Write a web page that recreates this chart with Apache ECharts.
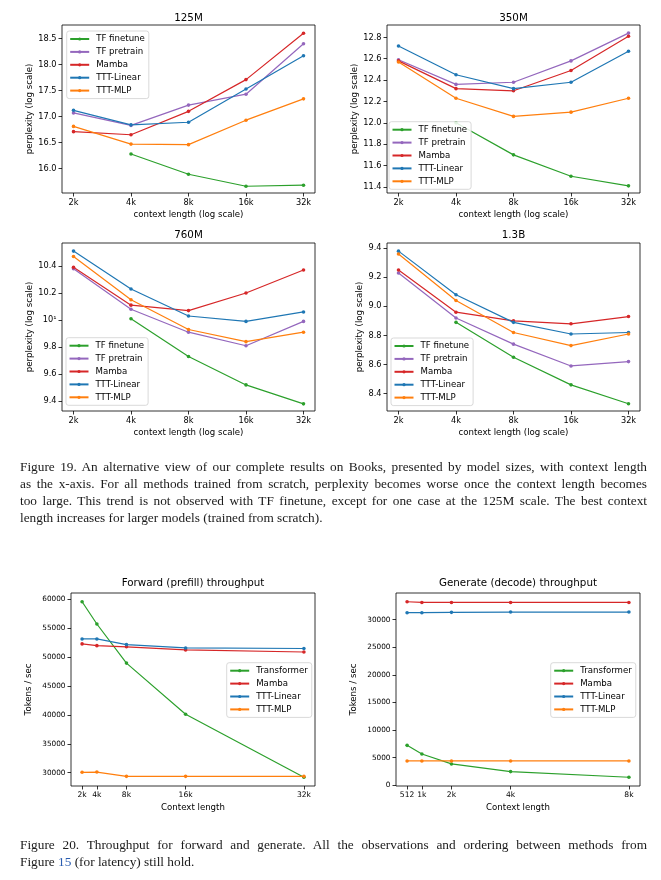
<!DOCTYPE html>
<html><head><meta charset="utf-8">
<script src="https://cdn.jsdelivr.net/npm/echarts@6/dist/echarts.min.js"></script>
<style>
html,body{margin:0;padding:0;background:#fff;width:661px;height:880px;overflow:hidden}
#chart{position:absolute;left:0;top:0;width:661px;height:880px}
.cap{position:absolute;left:20px;width:627px;font-family:'Liberation Serif','DejaVu Serif',serif;font-size:13.3px;color:#1a1a1a;line-height:17px}
.cap div{white-space:nowrap;text-align:justify;text-align-last:justify}
.cap div.last{text-align-last:left}
</style></head><body>
<div id="chart"></div>
<div class="cap" style="top:458px">
<div>Figure 19. An alternative view of our complete results on Books, presented by model sizes, with context length</div>
<div>as the x-axis. For all methods trained from scratch, perplexity becomes worse once the context length becomes</div>
<div>too large. This trend is not observed with TF finetune, except for one case at the 125M scale. The best context</div>
<div class="last">length increases for larger models (trained from scratch).</div>
</div>
<div class="cap" style="top:836px">
<div>Figure 20. Throughput for forward and generate. All the observations and ordering between methods from</div>
<div class="last">Figure <span style="color:#2a5db0">15</span> (for latency) still hold.</div>
</div>
<script>
// ---------- data ----------
const ctxLabels = ['2k', '4k', '8k', '16k', '32k'];
const methods = ['TF finetune', 'TF pretrain', 'Mamba', 'TTT-Linear', 'TTT-MLP'];

const p125_tfFinetune = [null, 16.28, 15.89, 15.66, 15.68];
const p125_tfPretrain = [17.07, 16.83, 17.22, 17.43, 18.40];
const p125_mamba      = [16.71, 16.65, 17.10, 17.71, 18.60];
const p125_tttLinear  = [17.12, 16.84, 16.89, 17.53, 18.17];
const p125_tttMlp     = [16.81, 16.47, 16.46, 16.93, 17.34];

const p350_tfFinetune = [null, 12.00, 11.70, 11.50, 11.41];
const p350_tfPretrain = [12.59, 12.36, 12.38, 12.58, 12.84];
const p350_mamba      = [12.58, 12.32, 12.30, 12.49, 12.81];
const p350_tttLinear  = [12.72, 12.45, 12.32, 12.38, 12.67];
const p350_tttMlp     = [12.57, 12.23, 12.06, 12.10, 12.23];

const p760_tfFinetune = [null, 10.01, 9.73, 9.52, 9.38];
const p760_tfPretrain = [10.38, 10.08, 9.91, 9.81, 9.99];
const p760_mamba      = [10.39, 10.11, 10.07, 10.20, 10.37];
const p760_tttLinear  = [10.51, 10.23, 10.03, 9.99, 10.06];
const p760_tttMlp     = [10.47, 10.15, 9.93, 9.84, 9.91];

const p13b_tfFinetune = [null, 8.89, 8.65, 8.46, 8.33];
const p13b_tfPretrain = [9.23, 8.92, 8.74, 8.59, 8.62];
const p13b_mamba      = [9.25, 8.96, 8.90, 8.88, 8.93];
const p13b_tttLinear  = [9.38, 9.08, 8.89, 8.81, 8.82];
const p13b_tttMlp     = [9.36, 9.04, 8.82, 8.73, 8.81];

const yTicks125 = [16.0, 16.5, 17.0, 17.5, 18.0, 18.5];
const yTicks350 = [11.4, 11.6, 11.8, 12.0, 12.2, 12.4, 12.6, 12.8];
const yTicks760 = [9.4, 9.6, 9.8, 10.0, 10.2, 10.4];
const yTicks13b = [8.4, 8.6, 8.8, 9.0, 9.2, 9.4];

const tpMethods = ['Transformer', 'Mamba', 'TTT-Linear', 'TTT-MLP'];
const fwdCtx = [2048, 4096, 8192, 16384, 32768];
const fwd_transformer = [59600, 55750, 48970, 40100, 29200];
const fwd_mamba       = [52300, 52000, 51800, 51260, 50900];
const fwd_tttLinear   = [53160, 53160, 52180, 51600, 51500];
const fwd_tttMlp      = [30050, 30100, 29350, 29350, 29350];
const fwdYTicks = [30000, 35000, 40000, 45000, 50000, 55000, 60000];

const genCtx = [512, 1024, 2048, 4096, 8192];
const gen_transformer = [7230, 5660, 3860, 2470, 1450];
const gen_mamba       = [33250, 33130, 33130, 33130, 33130];
const gen_tttLinear   = [31270, 31270, 31330, 31390, 31390];
const gen_tttMlp      = [4400, 4400, 4400, 4400, 4400];
const genYTicks = [0, 5000, 10000, 15000, 20000, 25000, 30000];

// ---------- styling ----------
const COL = {
  'TF finetune': '#2ca02c', 'TF pretrain': '#9467bd', 'Mamba': '#d62728',
  'TTT-Linear': '#1f77b4', 'TTT-MLP': '#ff7f0e', 'Transformer': '#2ca02c'
};
const FONT = 'DejaVu Sans';
const chart = echarts.init(document.getElementById('chart'), null, {renderer: 'canvas'});

const grids = [
  {left: 62, top: 25, width: 253, height: 168},
  {left: 387, top: 25, width: 253, height: 168},
  {left: 62, top: 243, width: 253, height: 168},
  {left: 387, top: 243, width: 253, height: 168},
  {left: 71, top: 593, width: 244, height: 193},
  {left: 396, top: 593, width: 244, height: 193}
];

const tickStyle = {show: true, inside: false, length: 3.5, lineStyle: {color: '#000', width: 0.8}};
function axisCfg(gi, opts) {
  return Object.assign({
    gridIndex: gi, type: 'value', axisLine: {show: false, onZero: false}, splitLine: {show: false},
    nameLocation: 'middle', nameTextStyle: {fontFamily: FONT, fontSize: 8.6, color: '#000'},
    axisTick: Object.assign({customValues: opts.ticks}, tickStyle),
    axisLabel: {customValues: opts.ticks, formatter: opts.fmt, margin: 5.5, fontFamily: FONT, fontSize: opts.fs || 8.2, color: '#000'}
  }, opts.extra);
}

const ctxIdx = ctxLabels.map((_, i) => i);
const ctxFmt = v => ctxLabels[Math.round(v)];
const xAxes = [];
const yAxes = [];
for (let g = 0; g < 4; g++) {
  xAxes.push(axisCfg(g, {ticks: ctxIdx, fmt: ctxFmt,
    extra: {min: -0.2, max: 4.2, name: 'context length (log scale)', nameGap: 17}}));
}
const pplY = [
  {ticks: yTicks125, min: 15.53, max: 18.76, gap: 27.5, fmt: v => v.toFixed(1)},
  {ticks: yTicks350, min: 11.343, max: 12.916, gap: 28, fmt: v => v.toFixed(1)},
  {ticks: yTicks760, min: 9.327, max: 10.57, gap: 28, fmt: v => (Math.abs(v - 10) < 1e-9 ? '10\u00b9' : v.toFixed(1))},
  {ticks: yTicks13b, min: 8.28, max: 9.436, gap: 23, fmt: v => v.toFixed(1)}
];
pplY.forEach((c, g) => yAxes.push(axisCfg(g, {ticks: c.ticks, fmt: c.fmt,
  extra: {min: c.min, max: c.max, name: 'perplexity (log scale)', nameGap: c.gap}})));

xAxes.push(axisCfg(4, {ticks: fwdCtx, fmt: v => (v / 1024) + 'k', fs: 7.6,
  extra: {min: 512, max: 34304, name: 'Context length', nameGap: 17.5}}));
yAxes.push(axisCfg(4, {ticks: fwdYTicks, fmt: v => String(v), fs: 7.3,
  extra: {min: 27680, max: 61120, name: 'Tokens / sec', nameGap: 37.5}}));
xAxes.push(axisCfg(5, {ticks: genCtx, fmt: v => (v < 1024 ? String(v) : (v / 1024) + 'k'), fs: 7.6,
  extra: {min: 128, max: 8576, name: 'Context length', nameGap: 17.5}}));
yAxes.push(axisCfg(5, {ticks: genYTicks, fmt: v => String(v), fs: 7.3,
  extra: {min: -140, max: 34840, name: 'Tokens / sec', nameGap: 38}}));

const series = [];
function addLine(gi, name, xs, ys) {
  series.push({
    type: 'line', name: name, xAxisIndex: gi, yAxisIndex: gi,
    data: ys.map((v, i) => [xs[i], v == null ? '-' : v]),
    symbol: 'circle', symbolSize: 3.6, showSymbol: true,
    lineStyle: {color: COL[name], width: 1.2},
    itemStyle: {color: COL[name]},
    emphasis: {disabled: true}, animation: false
  });
}
const pplSets = [
  [p125_tfFinetune, p125_tfPretrain, p125_mamba, p125_tttLinear, p125_tttMlp],
  [p350_tfFinetune, p350_tfPretrain, p350_mamba, p350_tttLinear, p350_tttMlp],
  [p760_tfFinetune, p760_tfPretrain, p760_mamba, p760_tttLinear, p760_tttMlp],
  [p13b_tfFinetune, p13b_tfPretrain, p13b_mamba, p13b_tttLinear, p13b_tttMlp]
];
pplSets.forEach((set, g) => set.forEach((vals, m) => addLine(g, methods[m], ctxIdx, vals)));
[fwd_transformer, fwd_mamba, fwd_tttLinear, fwd_tttMlp].forEach((vals, m) => addLine(4, tpMethods[m], fwdCtx, vals));
[gen_transformer, gen_mamba, gen_tttLinear, gen_tttMlp].forEach((vals, m) => addLine(5, tpMethods[m], genCtx, vals));

function legendCfg(names, left, top) {
  return {
    data: names, orient: 'vertical', left: left, top: top,
    itemWidth: 19, itemHeight: 4, itemGap: 3.9,
    padding: [3.5, 4, 3.5, 2.5],
    borderColor: '#cfcfcf', borderWidth: 0.8, borderRadius: 2.5,
    backgroundColor: 'rgba(255,255,255,0.85)', selectedMode: false,
    textStyle: {fontFamily: FONT, fontSize: 8.6, color: '#000', padding: [0, 0, 0, 2]}
  };
}
const legends = [
  legendCfg(methods, 66.7, 31),
  legendCfg(methods, 389, 121.7),
  legendCfg(methods, 66, 337.7),
  legendCfg(methods, 391, 338),
  legendCfg(tpMethods, 226.7, 662.7),
  legendCfg(tpMethods, 550.7, 662.7)
];

function titleCfg(text, cx, top, fs) {
  return {text: text, left: cx, top: top, textAlign: 'center', padding: 0,
    textStyle: {fontFamily: FONT, fontSize: fs, fontWeight: 'normal', color: '#000'}};
}
const titles = [
  titleCfg('125M', 188.5, 13, 10.3),
  titleCfg('350M', 513.5, 13, 10.3),
  titleCfg('760M', 188.5, 230, 10.3),
  titleCfg('1.3B', 513.5, 230, 10.3),
  titleCfg('Forward (prefill) throughput', 193, 578, 10.3),
  titleCfg('Generate (decode) throughput', 518, 578, 10.3)
];

chart.setOption({
  animation: false,
  backgroundColor: '#fff',
  title: titles,
  legend: legends,
  grid: grids.map(g => Object.assign({show: true, borderColor: '#000', borderWidth: 0.8, backgroundColor: 'transparent'}, g)),
  xAxis: xAxes,
  yAxis: yAxes,
  series: series
});
</script>
</body></html>
